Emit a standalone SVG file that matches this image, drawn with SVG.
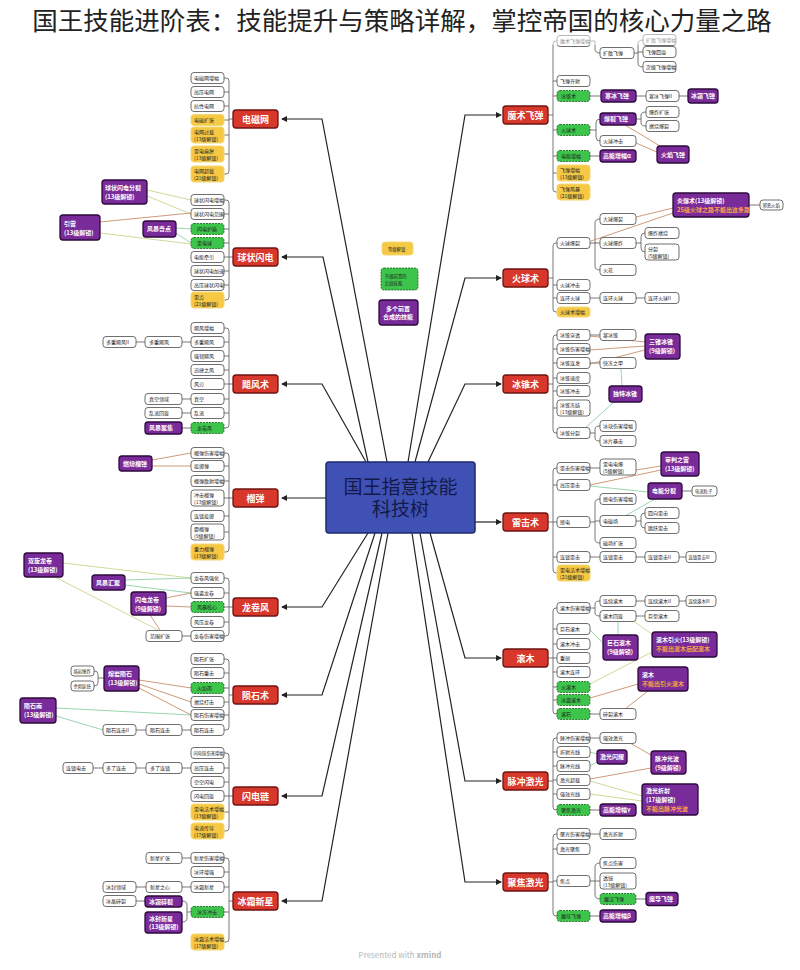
<svg xmlns="http://www.w3.org/2000/svg" width="800" height="970" viewBox="0 0 800 970">
<defs>
<marker id="a" viewBox="0 0 6 6" refX="5" refY="3" markerWidth="5" markerHeight="5" orient="auto"><path d="M0,0L6,3L0,6z" fill="#222"/></marker>
<style>
.w{fill:#fff;stroke:#4a4a4a;stroke-width:.8}
.g{fill:#3cc44b;stroke:#1b5e20;stroke-width:.8;stroke-dasharray:2 1}
.y{fill:#f6c945;stroke:#f2d878;stroke-width:1}
.p{fill:#7a2b9a;stroke:#2e0a3c;stroke-width:1.3}
.r{fill:#d8372b;stroke:#6e1410;stroke-width:1.3}
text{font-family:"Noto Sans CJK SC","Noto Sans",sans-serif}
.t{font-size:5px;fill:#222}
.ts{font-size:4.3px;fill:#222}
.tp{font-size:6px;font-weight:bold;fill:#fff}
.o{fill:#ffa04a}
.tr{font-size:9px;font-weight:bold;fill:#fff;text-anchor:middle}
.m{fill:none;stroke:#222;stroke-width:1.2;marker-end:url(#a)}
.b{fill:none;stroke:#555;stroke-width:.8}
.lo{fill:none;stroke:#cdd58e;stroke-width:.9}
.lt{fill:none;stroke:#c98f6a;stroke-width:.9}
.lg{fill:none;stroke:#8fd0a8;stroke-width:.9}
</style>
</defs>
<rect width="800" height="970" fill="#fff"/>

<g id="connectors">
<path class="m" d="M387,462L322,119H282"/>
<path class="m" d="M368,462L323,257H282"/>
<path class="m" d="M366,462L322,384H282"/>
<path class="m" d="M326,498H282"/>
<path class="m" d="M368,533L322,607H282"/>
<path class="m" d="M375,533L322,695H282"/>
<path class="m" d="M382,533L322,796H282"/>
<path class="m" d="M388,533L322,901H282"/>
<path class="m" d="M408,462L465,115H501"/>
<path class="m" d="M415,462L465,278H501"/>
<path class="m" d="M428,462L465,384H501"/>
<path class="m" d="M475,522H501"/>
<path class="m" d="M430,533L465,658H501"/>
<path class="m" d="M420,533L465,781H501"/>
<path class="m" d="M412,533L465,882H501"/>
<!-- left brackets -->
<path class="b" d="M224,78H226Q229,78 229,81V171Q229,174 226,174H224M224,92H229M224,106H229M224,120H229M224,135H229M224,154H229M229,119H233"/>
<path class="b" d="M224,200H226Q229,200 229,203V297Q229,300 226,300H224M224,214H229M224,229H229M224,243H229M224,257H229M224,271H229M224,285H229M229,257H233"/>
<path class="b" d="M224,328H226Q229,328 229,331V425Q229,428 226,428H224M224,342H229M224,356H229M224,370H229M224,384H229M224,399H229M224,413H229M229,384H233"/>
<path class="b" d="M224,453H226Q229,453 229,456V549Q229,552 226,552H224M224,466H229M224,481H229M224,498H229M224,516H229M224,532H229M229,498H233"/>
<path class="b" d="M224,578H226Q229,578 229,581V633Q229,636 226,636H224M224,593H229M224,607H229M224,622H229M229,607H233"/>
<path class="b" d="M224,659H226Q229,659 229,662V727Q229,730 226,730H224M224,673H229M224,688H229M224,702H229M224,715H229M229,695H233"/>
<path class="b" d="M224,753H226Q229,753 229,756V828Q229,831 226,831H224M224,768H229M224,782H229M224,796H229M224,812H229M229,796H233"/>
<path class="b" d="M224,858H226Q229,858 229,861V939Q229,942 226,942H224M224,872H229M224,887H229M224,912H229M229,901H233"/>
<!-- left extra links -->
<path class="b" d="M182,342H191M136,342H145M182,399H191M182,413H191M182,428H191"/>
<path class="b" d="M182,636H191"/>
<path class="b" d="M182,730H191M136,730H146M104,678H98M94,671Q98,671 98,674V683Q98,686 94,686"/>
<path class="b" d="M182,768H191M136,768H146M93,768H103"/>
<path class="b" d="M182,858H191M182,887H191M136,887H146M136,901H145M182,901Q187,901 187,905V918Q187,922 182,922M187,912H191"/>
<path class="lo" d="M147,190L191,200M147,196L191,214M100,233L191,244"/>
<path class="lt" d="M100,222L191,213"/>
<path class="lg" d="M176,228L191,229M176,233L191,243"/>
<path class="lt" d="M152,460L191,453M152,466L191,466"/>
<path class="lo" d="M63,563L191,578M55,577L158,630"/>
<path class="lg" d="M125,580L191,578M125,585L191,593"/>
<path class="lt" d="M166,598L191,593M166,606L191,607M150,615L160,630"/>
<path class="lt" d="M139,680L191,688M139,684L191,702M139,688L191,715"/>
<path class="lg" d="M56,708L191,715M56,716L103,730"/>
<!-- right brackets -->
<path class="b" d="M557,41H556Q553,41 553,44V189Q553,192 556,192H557M553,81H557M553,96H557M553,130H557M553,156H557M553,173H557M548,115H553"/>
<path class="b" d="M557,243H556Q553,243 553,246V309Q553,312 556,312H557M553,285H557M553,298H557M548,278H553"/>
<path class="b" d="M557,335H556Q553,335 553,338V430Q553,433 556,433H557M553,349H557M553,363H557M553,378H557M553,391H557M553,408H557M548,384H553"/>
<path class="b" d="M557,468H556Q553,468 553,471V570Q553,573 556,573H557M553,485H557M553,522H557M553,557H557M548,522H553"/>
<path class="b" d="M557,608H556Q553,608 553,611V711Q553,714 556,714H557M553,629H557M553,644H557M553,658H557M553,672H557M553,687H557M553,700H557M548,658H553"/>
<path class="b" d="M557,738H556Q553,738 553,741V807Q553,810 556,810H557M553,752H557M553,766H557M553,780H557M553,794H557M548,781H553"/>
<path class="b" d="M557,834H556Q553,834 553,837V913Q553,916 556,916H557M553,849H557M553,881H557M548,882H553"/>
<!-- right sub links -->
<path class="b" d="M590,41H595V49Q595,53 600,53M634,53H638M643,40Q638,40 638,44V63Q638,67 643,67M638,52H643"/>
<path class="b" d="M590,96H601M636,96H646M679,96H688"/>
<path class="b" d="M590,130H596M600,119Q596,119 596,123V137Q596,141 600,141M636,119H641M646,112Q641,112 641,115V123Q641,126 646,126"/>
<path class="b" d="M590,156H600"/>
<path class="lt" d="M660,146L625,125M657,152L636,143"/>
<path class="b" d="M590,243H595M600,219Q595,219 595,223V266Q595,270 600,270M595,243H600M636,243H641M645,233Q641,233 641,237V248Q641,252 645,252"/>
<path class="b" d="M590,298H600M636,298H645M749,205H760"/>
<path class="lt" d="M673,208L636,217M673,213L591,241"/>
<path class="b" d="M590,335H600M590,363H600M590,433H595M600,426Q595,426 595,429V438Q595,441 600,441"/>
<path class="lt" d="M645,342L590,336M645,346L590,350M645,350L590,364"/>
<path class="lg" d="M622,386L621,369M614,402L585,428"/>
<path class="b" d="M590,468H600M590,522H595M600,499Q595,499 595,503V539Q595,543 600,543M595,521H600M636,521H641M645,513Q641,513 641,516V525Q641,528 645,528"/>
<path class="b" d="M590,557H600M636,557H645M679,557H686M682,491H692"/>
<path class="lt" d="M661,466L636,470M661,470L590,485"/>
<path class="lg" d="M648,492L590,486M655,499L625,516"/>
<path class="b" d="M590,608H595M600,601Q595,601 595,604V613Q595,616 600,616M636,601H645M679,601H686M636,616H645M590,714H600"/>
<path class="lg" d="M618,622L618,635M590,630L603,643"/>
<path class="lo" d="M633,621L652,634M652,652L590,684"/>
<path class="lt" d="M638,684L590,698M648,691L625,709"/>
<path class="b" d="M590,738H600M590,810H600"/>
<path class="lg" d="M590,752L597,754M597,762L590,766"/>
<path class="lt" d="M651,755L630,743M651,768L590,779"/>
<path class="lo" d="M642,796L590,781M642,801L590,794"/>
<path class="b" d="M590,834H600M590,881H595M600,863Q595,863 595,867V895Q595,899 600,899M595,881H600M636,899H646M590,916H600"/>
</g>

<!-- center -->
<g id="center">
<rect x="326" y="462" width="149" height="71" rx="3" fill="#3f51b5" stroke="#1e2a6e" stroke-width="1.5"/>
<text font-size="19" fill="#141a48" text-anchor="middle"><tspan x="400.5" y="494">国王指意技能</tspan><tspan x="400.5" y="516">科技树</tspan></text>
</g>
<g id="legend-yellow"><rect class="y" x="382" y="242" width="31" height="13" rx="3"/><text class="ts" x="388" y="250.5">等级解锁</text></g>
<g id="legend-green"><rect class="g" x="381" y="268" width="37" height="22" rx="3"/><text class="ts" x="385" y="278" fill="#114a1a">升级前置的</text><text class="ts" x="385" y="285" fill="#114a1a">后续技能</text></g>
<g id="legend-purple"><rect class="p" x="379" y="300" width="39" height="25" rx="3"/><text class="tp" x="386" y="310.5" font-size="5">多个前置</text><text class="tp" x="383" y="318.5" font-size="5">合成的技能</text></g>

<!-- LEFT: 电磁网 -->
<g id="n-dcw"><rect class="r" x="233" y="110" width="45" height="18" rx="3"/><text class="tr" x="255.5" y="122.5">电磁网</text></g>
<g id="dcw1"><rect class="w" x="191" y="72.5" width="33" height="11" rx="3"/><text class="t" x="194" y="79.8">电磁网增幅</text></g>
<g id="dcw2"><rect class="w" x="191" y="86.5" width="33" height="11" rx="3"/><text class="t" x="194" y="93.8">高压电网</text></g>
<g id="dcw3"><rect class="w" x="191" y="100.5" width="33" height="11" rx="3"/><text class="t" x="194" y="107.8">抗性电网</text></g>
<g id="dcw4"><rect class="y" x="191" y="114.5" width="33" height="11" rx="3"/><text class="t" x="194" y="121.8">电磁扩张</text></g>
<g id="dcw5"><rect class="y" x="191" y="127" width="33" height="16" rx="3"/><text class="t" x="194" y="133.5">电网过载</text><text class="t" x="194" y="140.5">(13级解锁)</text></g>
<g id="dcw6"><rect class="y" x="191" y="146" width="33" height="16" rx="3"/><text class="t" x="194" y="152.5">雷电麻痹</text><text class="t" x="194" y="159.5">(13级解锁)</text></g>
<g id="dcw7"><rect class="y" x="191" y="166" width="33" height="16" rx="3"/><text class="t" x="194" y="172.5">电网超载</text><text class="t" x="194" y="179.5">(21级解锁)</text></g>

<!-- 球状闪电 -->
<g id="n-qzsd"><rect class="r" x="233" y="248" width="45" height="18" rx="3"/><text class="tr" x="255.5" y="260.5">球状闪电</text></g>
<g id="qz1"><rect class="w" x="191" y="194.5" width="33" height="11" rx="3"/><text class="t" x="194" y="201.8">球状闪电增幅</text></g>
<g id="qz2"><rect class="w" x="191" y="208.5" width="33" height="11" rx="3"/><text class="t" x="194" y="215.8">球状闪电范围</text></g>
<g id="qz3"><rect class="g" x="191" y="223.5" width="33" height="11" rx="3"/><text class="t" x="197" y="230.8">闪电护盾</text></g>
<g id="qz4"><rect class="g" x="191" y="237.5" width="33" height="11" rx="3"/><text class="t" x="197" y="244.8">雷电球</text></g>
<g id="qz5"><rect class="w" x="191" y="251.5" width="33" height="11" rx="3"/><text class="t" x="194" y="258.8">电能牵引</text></g>
<g id="qz6"><rect class="w" x="191" y="265.5" width="33" height="11" rx="3"/><text class="t" x="194" y="272.8">球状闪电加速</text></g>
<g id="qz7"><rect class="w" x="191" y="279.5" width="33" height="11" rx="3"/><text class="t" x="194" y="286.8">高压球状闪电</text></g>
<g id="qz8"><rect class="y" x="191" y="292" width="33" height="16" rx="3"/><text class="t" x="194" y="298.5">雷点</text><text class="t" x="194" y="305.5">(21级解锁)</text></g>
<g id="qz-p1"><rect class="p" x="102" y="180" width="45" height="24" rx="3"/><text class="tp" x="105" y="190">球状闪电分裂</text><text class="tp" x="105" y="199">(13级解锁)</text></g>
<g id="qz-p2"><rect class="p" x="143" y="221" width="33" height="16" rx="3"/><text class="tp" x="147" y="231">风暴奇点</text></g>
<g id="qz-p3"><rect class="p" x="60" y="215" width="40" height="25" rx="3"/><text class="tp" x="64" y="225.5">引雷</text><text class="tp" x="64" y="234.5">(13级解锁)</text></g>

<!-- 飓风术 -->
<g id="n-jfs"><rect class="r" x="233" y="375" width="45" height="18" rx="3"/><text class="tr" x="255.5" y="387.5">飓风术</text></g>
<g id="jf1"><rect class="w" x="191" y="322.5" width="33" height="11" rx="3"/><text class="t" x="194" y="329.8">飓风增幅</text></g>
<g id="jf2"><rect class="w" x="191" y="336.5" width="33" height="11" rx="3"/><text class="t" x="194" y="343.8">多重飓风</text></g>
<g id="jf3"><rect class="w" x="191" y="350.5" width="33" height="11" rx="3"/><text class="t" x="194" y="357.8">强韧飓风</text></g>
<g id="jf4"><rect class="w" x="191" y="364.5" width="33" height="11" rx="3"/><text class="t" x="194" y="371.8">迅捷之风</text></g>
<g id="jf5"><rect class="w" x="191" y="378.5" width="33" height="11" rx="3"/><text class="t" x="194" y="385.8">风刃</text></g>
<g id="jf6"><rect class="w" x="191" y="393.5" width="33" height="11" rx="3"/><text class="t" x="194" y="400.8">真空</text></g>
<g id="jf7"><rect class="w" x="191" y="407.5" width="33" height="11" rx="3"/><text class="t" x="194" y="414.8">乱流</text></g>
<g id="jf8"><rect class="g" x="191" y="422.5" width="33" height="11" rx="3"/><text class="t" x="197" y="429.8">龙卷风</text></g>
<g id="jf2a"><rect class="w" x="145" y="336.5" width="37" height="11" rx="3"/><text class="t" x="149" y="343.8">多重飓风</text></g>
<g id="jf2b"><rect class="w" x="103" y="336.5" width="33" height="11" rx="3"/><text class="t" x="106" y="343.8">多重飓风II</text></g>
<g id="jf6a"><rect class="w" x="145" y="393.5" width="37" height="11" rx="3"/><text class="t" x="149" y="400.8">真空领域</text></g>
<g id="jf7a"><rect class="w" x="145" y="407.5" width="37" height="11" rx="3"/><text class="t" x="149" y="414.8">乱流回旋</text></g>
<g id="jf8a"><rect class="p" x="145" y="422" width="37" height="12" rx="3"/><text class="tp" x="149" y="430.2">风暴聚集</text></g>

<!-- 榴弹 -->
<g id="n-ld"><rect class="r" x="233" y="489" width="45" height="18" rx="3"/><text class="tr" x="255.5" y="501.5">榴弹</text></g>
<g id="ld1"><rect class="w" x="191" y="447.5" width="33" height="11" rx="3"/><text class="t" x="194" y="454.8">榴弹伤害增幅</text></g>
<g id="ld2"><rect class="w" x="191" y="460.5" width="33" height="11" rx="3"/><text class="t" x="194" y="467.8">投掷弹</text></g>
<g id="ld3"><rect class="w" x="191" y="475.5" width="33" height="11" rx="3"/><text class="t" x="194" y="482.8">榴弹散射增幅</text></g>
<g id="ld4"><rect class="w" x="191" y="490" width="33" height="16" rx="3"/><text class="t" x="194" y="496.5">冲击榴弹</text><text class="t" x="194" y="503.5">(13级解锁)</text></g>
<g id="ld5"><rect class="w" x="191" y="510.5" width="33" height="11" rx="3"/><text class="t" x="194" y="517.8">连锁投掷</text></g>
<g id="ld6"><rect class="w" x="191" y="524" width="33" height="16" rx="3"/><text class="t" x="194" y="530.5">震榴弹</text><text class="t" x="194" y="537.5">(9级解锁)</text></g>
<g id="ld7"><rect class="y" x="191" y="544" width="33" height="16" rx="3"/><text class="t" x="194" y="550.5">重力榴弹</text><text class="t" x="194" y="557.5">(13级解锁)</text></g>
<g id="ld-p"><rect class="p" x="119" y="456" width="33" height="15" rx="3"/><text class="tp" x="123" y="465.8">燃烧榴弹</text></g>

<!-- 龙卷风 -->
<g id="n-ljf"><rect class="r" x="233" y="598" width="45" height="18" rx="3"/><text class="tr" x="255.5" y="610.5">龙卷风</text></g>
<g id="lj1"><rect class="w" x="191" y="572.5" width="33" height="11" rx="3"/><text class="t" x="194" y="579.8">龙卷风强化</text></g>
<g id="lj2"><rect class="w" x="191" y="587.5" width="33" height="11" rx="3"/><text class="t" x="194" y="594.8">强袭龙卷</text></g>
<g id="lj3"><rect class="g" x="191" y="601.5" width="33" height="11" rx="3"/><text class="t" x="197" y="608.8">风暴核心</text></g>
<g id="lj4"><rect class="w" x="191" y="616.5" width="33" height="11" rx="3"/><text class="t" x="194" y="623.8">风压龙卷</text></g>
<g id="lj5"><rect class="w" x="191" y="630.5" width="33" height="11" rx="3"/><text class="t" x="194" y="637.8">龙卷伤害增幅</text></g>
<g id="lj5a"><rect class="w" x="146" y="630.5" width="36" height="11" rx="3"/><text class="t" x="150" y="637.8">范围扩张</text></g>
<g id="lj-p1"><rect class="p" x="24" y="553" width="39" height="24" rx="3"/><text class="tp" x="28" y="563">双旋龙卷</text><text class="tp" x="28" y="572">(13级解锁)</text></g>
<g id="lj-p2"><rect class="p" x="92" y="575" width="33" height="15" rx="3"/><text class="tp" x="96" y="584.8">风暴汇聚</text></g>
<g id="lj-p3"><rect class="p" x="131" y="592" width="35" height="23" rx="3"/><text class="tp" x="135" y="601.5">闪电龙卷</text><text class="tp" x="135" y="610.5">(9级解锁)</text></g>

<!-- 陨石术 -->
<g id="n-yss"><rect class="r" x="233" y="686" width="45" height="18" rx="3"/><text class="tr" x="255.5" y="698.5">陨石术</text></g>
<g id="ys1"><rect class="w" x="191" y="653.5" width="33" height="11" rx="3"/><text class="t" x="194" y="660.8">陨石扩张</text></g>
<g id="ys2"><rect class="w" x="191" y="667.5" width="33" height="11" rx="3"/><text class="t" x="194" y="674.8">陨石重击</text></g>
<g id="ys3"><rect class="g" x="191" y="682.5" width="33" height="11" rx="3"/><text class="t" x="197" y="689.8">火焰雨</text></g>
<g id="ys4"><rect class="w" x="191" y="696.5" width="33" height="11" rx="3"/><text class="t" x="194" y="703.8">燃烧打击</text></g>
<g id="ys5"><rect class="w" x="191" y="709.5" width="33" height="11" rx="3"/><text class="t" x="194" y="716.8">陨石伤害增幅</text></g>
<g id="ys6"><rect class="w" x="191" y="724.5" width="33" height="11" rx="3"/><text class="t" x="194" y="731.8">陨石连击</text></g>
<g id="ys6a"><rect class="w" x="146" y="724.5" width="36" height="11" rx="3"/><text class="t" x="150" y="731.8">陨石连击</text></g>
<g id="ys6b"><rect class="w" x="103" y="724.5" width="33" height="11" rx="3"/><text class="t" x="106" y="731.8">陨石连击II</text></g>
<g id="ys-p1"><rect class="p" x="104" y="666" width="35" height="25" rx="3"/><text class="tp" x="108" y="676">熔岩陨石</text><text class="tp" x="108" y="685">(13级解锁)</text></g>
<g id="ys-p1a"><rect class="w" x="71" y="666" width="23" height="10" rx="3"/><text class="ts" x="73.5" y="672.6">熔岩爆炸</text></g>
<g id="ys-p1b"><rect class="w" x="71" y="681" width="23" height="10" rx="3"/><text class="ts" x="73.5" y="687.6">余烬延烧</text></g>
<g id="ys-p2"><rect class="p" x="20" y="698" width="36" height="25" rx="3"/><text class="tp" x="24" y="708">陨石雨</text><text class="tp" x="24" y="717">(13级解锁)</text></g>

<!-- 闪电链 -->
<g id="n-sdl"><rect class="r" x="233" y="787" width="45" height="18" rx="3"/><text class="tr" x="255.5" y="799.5">闪电链</text></g>
<g id="sd1"><rect class="w" x="191" y="747.5" width="33" height="11" rx="3"/><text class="ts" x="193.5" y="754.6">闪电链伤害增幅</text></g>
<g id="sd2"><rect class="w" x="191" y="762.5" width="33" height="11" rx="3"/><text class="t" x="194" y="769.8">高压连击</text></g>
<g id="sd3"><rect class="w" x="191" y="776.5" width="33" height="11" rx="3"/><text class="t" x="194" y="783.8">空空闪电</text></g>
<g id="sd4"><rect class="w" x="191" y="790.5" width="33" height="11" rx="3"/><text class="t" x="194" y="797.8">闪电回旋</text></g>
<g id="sd5"><rect class="y" x="191" y="804" width="33" height="16" rx="3"/><text class="t" x="194" y="810.5">雷电法术增幅</text><text class="t" x="194" y="817.5">(13级解锁)</text></g>
<g id="sd6"><rect class="y" x="191" y="823" width="33" height="16" rx="3"/><text class="t" x="194" y="829.5">电流传导</text><text class="t" x="194" y="836.5">(17级解锁)</text></g>
<g id="sd2a"><rect class="w" x="146" y="762.5" width="36" height="11" rx="3"/><text class="t" x="150" y="769.8">多了连锁</text></g>
<g id="sd2b"><rect class="w" x="103" y="762.5" width="33" height="11" rx="3"/><text class="t" x="106" y="769.8">多了连击</text></g>
<g id="sd2c"><rect class="w" x="63" y="762.5" width="30" height="11" rx="3"/><text class="t" x="66" y="769.8">连锁电击</text></g>

<!-- 冰霜新星 -->
<g id="n-bsxx"><rect class="r" x="233" y="892" width="45" height="18" rx="3"/><text class="tr" x="255.5" y="904.5">冰霜新星</text></g>
<g id="bx1"><rect class="w" x="191" y="852.5" width="33" height="11" rx="3"/><text class="t" x="194" y="859.8">新星伤害增幅</text></g>
<g id="bx2"><rect class="w" x="191" y="866.5" width="33" height="11" rx="3"/><text class="t" x="194" y="873.8">冰环增强</text></g>
<g id="bx3"><rect class="w" x="191" y="881.5" width="33" height="11" rx="3"/><text class="t" x="194" y="888.8">冰霜新星</text></g>
<g id="bx4"><rect class="g" x="191" y="906.5" width="33" height="11" rx="3"/><text class="t" x="197" y="913.8">冰冻冲击</text></g>
<g id="bx5"><rect class="y" x="191" y="934" width="33" height="16" rx="3"/><text class="t" x="194" y="940.5">冰霜法术增幅</text><text class="t" x="194" y="947.5">(17级解锁)</text></g>
<g id="bx1a"><rect class="w" x="146" y="852.5" width="36" height="11" rx="3"/><text class="t" x="150" y="859.8">新星扩张</text></g>
<g id="bx3a"><rect class="w" x="146" y="881.5" width="36" height="11" rx="3"/><text class="t" x="150" y="888.8">新星之心</text></g>
<g id="bx3b"><rect class="w" x="103" y="881.5" width="33" height="11" rx="3"/><text class="t" x="106" y="888.8">冰封领域</text></g>
<g id="bx-p1"><rect class="p" x="145" y="896" width="37" height="11" rx="3"/><text class="tp" x="149" y="903.7">冰霜碎裂</text></g>
<g id="bx-p2"><rect class="p" x="145" y="912" width="37" height="21" rx="3"/><text class="tp" x="149" y="920.5">冰封新星</text><text class="tp" x="149" y="929">(13级解锁)</text></g>
<g id="bx-p1a"><rect class="w" x="103" y="895.5" width="33" height="11" rx="3"/><text class="t" x="106" y="902.8">冰晶碎裂</text></g>

<!-- RIGHT: 魔术飞弹 -->
<g id="n-msfd"><rect class="r" x="503" y="106" width="45" height="18" rx="3"/><text class="tr" x="525.5" y="118.5">魔术飞弹</text></g>
<g id="mf1"><rect class="w" x="557" y="35.5" width="33" height="11" rx="3"/><text class="t" x="560" y="42.8">魔术飞弹增幅</text></g>
<g id="mf1a"><rect class="w" x="600" y="47.5" width="34" height="11" rx="3"/><text class="t" x="603" y="54.8">扩散飞弹</text></g>
<g id="mf1a1"><rect class="w" x="643" y="34.5" width="33" height="11" rx="3"/><text class="t" x="646" y="41.8">扩散飞弹增幅</text></g>
<g id="mf1a2"><rect class="w" x="643" y="46.5" width="33" height="11" rx="3"/><text class="t" x="646" y="53.8">飞弹四溢</text></g>
<g id="mf1a3"><rect class="w" x="643" y="61.5" width="33" height="11" rx="3"/><text class="t" x="646" y="68.8">次级飞弹增幅</text></g>
<g id="mf2"><rect class="w" x="557" y="75.5" width="33" height="11" rx="3"/><text class="t" x="560" y="82.8">飞弹齐射</text></g>
<g id="mf3"><rect class="g" x="557" y="90.5" width="33" height="11" rx="3"/><text class="t" x="561" y="97.8">冰锥术</text></g>
<g id="mf3a"><rect class="p" x="601" y="90" width="35" height="12" rx="3"/><text class="tp" x="605" y="98.2">寒冰飞弹</text></g>
<g id="mf3b"><rect class="w" x="646" y="90.5" width="33" height="11" rx="3"/><text class="t" x="649" y="97.8">寒冰飞弹II</text></g>
<g id="mf3c"><rect class="p" x="688" y="89" width="30" height="14" rx="3"/><text class="tp" x="691" y="98.2">冰霜飞弹</text></g>
<g id="mf4"><rect class="g" x="557" y="124.5" width="33" height="11" rx="3"/><text class="t" x="561" y="131.8">火球术</text></g>
<g id="mf4a"><rect class="p" x="600" y="113" width="36" height="12" rx="3"/><text class="tp" x="604" y="121.2">爆裂飞弹</text></g>
<g id="mf4b"><rect class="w" x="600" y="135.5" width="36" height="11" rx="3"/><text class="t" x="603" y="142.8">火球冲击</text></g>
<g id="mf4a1"><rect class="w" x="646" y="106.5" width="33" height="11" rx="3"/><text class="t" x="649" y="113.8">爆炸扩张</text></g>
<g id="mf4a2"><rect class="w" x="646" y="120.5" width="33" height="11" rx="3"/><text class="t" x="649" y="127.8">燃烧爆裂</text></g>
<g id="mf-p"><rect class="p" x="657" y="146" width="32" height="17" rx="3"/><text class="tp" x="661" y="157">火焰飞弹</text></g>
<g id="mf5"><rect class="g" x="557" y="150.5" width="33" height="11" rx="3"/><text class="t" x="561" y="157.8">电能增幅</text></g>
<g id="mf5a"><rect class="p" x="600" y="150" width="36" height="12" rx="3"/><text class="tp" x="603" y="158.2">高能增幅α</text></g>
<g id="mf6"><rect class="y" x="557" y="165" width="33" height="16" rx="3"/><text class="t" x="560" y="171.5">飞弹增幅</text><text class="t" x="560" y="178.5">(13级解锁)</text></g>
<g id="mf7"><rect class="y" x="557" y="184" width="33" height="16" rx="3"/><text class="t" x="560" y="190.5">飞弹风暴</text><text class="t" x="560" y="197.5">(21级解锁)</text></g>

<!-- 火球术 -->
<g id="n-hqs"><rect class="r" x="503" y="269" width="45" height="18" rx="3"/><text class="tr" x="525.5" y="281.5">火球术</text></g>
<g id="hq1"><rect class="w" x="557" y="237.5" width="33" height="11" rx="3"/><text class="t" x="560" y="244.8">火球爆裂</text></g>
<g id="hq1a"><rect class="w" x="600" y="213.5" width="36" height="11" rx="3"/><text class="t" x="603" y="220.8">大球爆裂</text></g>
<g id="hq1b"><rect class="w" x="600" y="237.5" width="36" height="11" rx="3"/><text class="t" x="603" y="244.8">火球爆炸</text></g>
<g id="hq1c"><rect class="w" x="600" y="264.5" width="36" height="11" rx="3"/><text class="t" x="603" y="271.8">火花</text></g>
<g id="hq1b1"><rect class="w" x="645" y="227.5" width="34" height="11" rx="3"/><text class="t" x="648" y="234.8">爆炸燃烧</text></g>
<g id="hq1b2"><rect class="w" x="645" y="244" width="34" height="16" rx="3"/><text class="t" x="648" y="250.5">分裂</text><text class="t" x="648" y="257.5">(5级解锁)</text></g>
<g id="hq2"><rect class="w" x="557" y="279.5" width="33" height="11" rx="3"/><text class="t" x="560" y="286.8">火球冲击</text></g>
<g id="hq3"><rect class="w" x="557" y="292.5" width="33" height="11" rx="3"/><text class="t" x="560" y="299.8">连环火球</text></g>
<g id="hq3a"><rect class="w" x="600" y="292.5" width="36" height="11" rx="3"/><text class="t" x="603" y="299.8">连环火球</text></g>
<g id="hq3b"><rect class="w" x="645" y="292.5" width="34" height="11" rx="3"/><text class="t" x="648" y="299.8">连环火球II</text></g>
<g id="hq4"><rect class="y" x="557" y="307" width="33" height="10" rx="3"/><text class="t" x="560" y="313.8">火球术增幅</text></g>
<g id="hq-p"><rect class="p" x="673" y="193" width="76" height="24" rx="3"/><text class="tp" x="677" y="203">炎爆术(13级解锁)</text><text class="tp o" x="677" y="212" font-size="5.4">25级火球之路不能出这条路</text></g>
<g id="hq-p1"><rect class="w" x="760" y="200" width="23" height="10" rx="3"/><text class="ts" x="762.5" y="206.6">邪恶火焰</text></g>

<!-- 冰锥术 -->
<g id="n-bzs"><rect class="r" x="503" y="375" width="45" height="18" rx="3"/><text class="tr" x="525.5" y="387.5">冰锥术</text></g>
<g id="bz1"><rect class="w" x="557" y="329.5" width="33" height="11" rx="3"/><text class="t" x="560" y="336.8">冰锥穿透</text></g>
<g id="bz1a"><rect class="w" x="600" y="329.5" width="36" height="11" rx="3"/><text class="t" x="603" y="336.8">寒冰锥</text></g>
<g id="bz2"><rect class="w" x="557" y="343.5" width="33" height="11" rx="3"/><text class="t" x="560" y="350.8">冰锥伤害增幅</text></g>
<g id="bz3"><rect class="w" x="557" y="357.5" width="33" height="11" rx="3"/><text class="t" x="560" y="364.8">冰锥连发</text></g>
<g id="bz3a"><rect class="w" x="600" y="357.5" width="36" height="11" rx="3"/><text class="t" x="603" y="364.8">快冻之甲</text></g>
<g id="bz4"><rect class="w" x="557" y="372.5" width="33" height="11" rx="3"/><text class="t" x="560" y="379.8">冰锥速度</text></g>
<g id="bz5"><rect class="w" x="557" y="385.5" width="33" height="11" rx="3"/><text class="t" x="560" y="392.8">冰锥冲击</text></g>
<g id="bz6"><rect class="w" x="557" y="400" width="33" height="16" rx="3"/><text class="t" x="560" y="406.5">冰锥冻结</text><text class="t" x="560" y="413.5">(13级解锁)</text></g>
<g id="bz7"><rect class="w" x="557" y="427.5" width="33" height="11" rx="3"/><text class="t" x="560" y="434.8">冰锥分裂</text></g>
<g id="bz7a"><rect class="w" x="600" y="420.5" width="36" height="11" rx="3"/><text class="t" x="603" y="427.8">冰块伤害增幅</text></g>
<g id="bz7b"><rect class="w" x="600" y="435.5" width="36" height="11" rx="3"/><text class="t" x="603" y="442.8">冰片暴击</text></g>
<g id="bz-p1"><rect class="p" x="645" y="334" width="35" height="25" rx="3"/><text class="tp" x="649" y="344">三锥冰锥</text><text class="tp" x="649" y="353">(9级解锁)</text></g>
<g id="bz-p2"><rect class="p" x="609" y="386" width="33" height="16" rx="3"/><text class="tp" x="613" y="396">独特冰锥</text></g>

<!-- 雷击术 -->
<g id="n-ljs"><rect class="r" x="503" y="513" width="45" height="18" rx="3"/><text class="tr" x="525.5" y="525.5">雷击术</text></g>
<g id="lz1"><rect class="w" x="557" y="462.5" width="33" height="11" rx="3"/><text class="t" x="560" y="469.8">雷击伤害增幅</text></g>
<g id="lz1a"><rect class="w" x="600" y="459" width="36" height="16" rx="3"/><text class="t" x="603" y="465.5">雷电电爆</text><text class="t" x="603" y="472.5">(5级解锁)</text></g>
<g id="lz2"><rect class="w" x="557" y="479.5" width="33" height="11" rx="3"/><text class="t" x="560" y="486.8">高压雷击</text></g>
<g id="lz3"><rect class="w" x="557" y="516.5" width="33" height="11" rx="3"/><text class="t" x="560" y="523.8">感电</text></g>
<g id="lz3a"><rect class="w" x="600" y="493.5" width="36" height="11" rx="3"/><text class="t" x="603" y="500.8">感电伤害增幅</text></g>
<g id="lz3b"><rect class="w" x="600" y="515.5" width="36" height="11" rx="3"/><text class="t" x="603" y="522.8">电磁场</text></g>
<g id="lz3c"><rect class="w" x="600" y="537.5" width="36" height="11" rx="3"/><text class="t" x="603" y="544.8">磁场扩张</text></g>
<g id="lz3b1"><rect class="w" x="645" y="507.5" width="34" height="11" rx="3"/><text class="t" x="648" y="514.8">四向雷击</text></g>
<g id="lz3b2"><rect class="w" x="645" y="522.5" width="34" height="11" rx="3"/><text class="t" x="648" y="529.8">跳跃雷击</text></g>
<g id="lz4"><rect class="w" x="557" y="551.5" width="33" height="11" rx="3"/><text class="t" x="560" y="558.8">连锁雷击</text></g>
<g id="lz4a"><rect class="w" x="600" y="551.5" width="36" height="11" rx="3"/><text class="t" x="603" y="558.8">连锁雷击</text></g>
<g id="lz4b"><rect class="w" x="645" y="551.5" width="34" height="11" rx="3"/><text class="t" x="648" y="558.8">连锁雷击II</text></g>
<g id="lz4c"><rect class="w" x="686" y="551.5" width="30" height="11" rx="3"/><text class="ts" x="688.5" y="558.6">连锁雷击III</text></g>
<g id="lz5"><rect class="y" x="557" y="565" width="33" height="16" rx="3"/><text class="t" x="560" y="571.5">雷电法术增幅</text><text class="t" x="560" y="578.5">(21级解锁)</text></g>
<g id="lz-p1"><rect class="p" x="661" y="452" width="38" height="24" rx="3"/><text class="tp" x="665" y="462">审判之雷</text><text class="tp" x="665" y="471">(13级解锁)</text></g>
<g id="lz-p2"><rect class="p" x="648" y="483" width="34" height="16" rx="3"/><text class="tp" x="652" y="493">电能分裂</text></g>
<g id="lz-p2a"><rect class="w" x="692" y="486" width="25" height="10" rx="3"/><text class="ts" x="695" y="492.6">电流粒子</text></g>

<!-- 滚木 -->
<g id="n-gm"><rect class="r" x="503" y="649" width="45" height="18" rx="3"/><text class="tr" x="525.5" y="661.5">滚木</text></g>
<g id="gm1"><rect class="w" x="557" y="602.5" width="33" height="11" rx="3"/><text class="t" x="560" y="609.8">滚木伤害增幅</text></g>
<g id="gm1a"><rect class="w" x="600" y="595.5" width="36" height="11" rx="3"/><text class="t" x="603" y="602.8">连续滚木</text></g>
<g id="gm1b"><rect class="w" x="600" y="610.5" width="36" height="11" rx="3"/><text class="t" x="603" y="617.8">滚木回旋</text></g>
<g id="gm1a1"><rect class="w" x="645" y="595.5" width="34" height="11" rx="3"/><text class="t" x="648" y="602.8">连续滚木II</text></g>
<g id="gm1a2"><rect class="w" x="686" y="595.5" width="30" height="11" rx="3"/><text class="ts" x="688.5" y="602.6">连续滚木III</text></g>
<g id="gm1b1"><rect class="w" x="645" y="610.5" width="34" height="11" rx="3"/><text class="t" x="648" y="617.8">巨型滚木</text></g>
<g id="gm2"><rect class="w" x="557" y="623.5" width="33" height="11" rx="3"/><text class="t" x="560" y="630.8">巨石滚木</text></g>
<g id="gm3"><rect class="w" x="557" y="638.5" width="33" height="11" rx="3"/><text class="t" x="560" y="645.8">滚木冲击</text></g>
<g id="gm4"><rect class="w" x="557" y="652.5" width="33" height="11" rx="3"/><text class="t" x="560" y="659.8">重创</text></g>
<g id="gm5"><rect class="w" x="557" y="666.5" width="33" height="11" rx="3"/><text class="t" x="560" y="673.8">滚木连环</text></g>
<g id="gm6"><rect class="g" x="557" y="681.5" width="33" height="11" rx="3"/><text class="t" x="561" y="688.8">火滚木</text></g>
<g id="gm7"><rect class="g" x="557" y="694.5" width="33" height="11" rx="3"/><text class="t" x="561" y="701.8">冰霜滚木</text></g>
<g id="gm8"><rect class="g" x="557" y="708.5" width="33" height="11" rx="3"/><text class="t" x="561" y="715.8">滚石</text></g>
<g id="gm8a"><rect class="w" x="600" y="708.5" width="36" height="11" rx="3"/><text class="t" x="603" y="715.8">碎裂滚木</text></g>
<g id="gm-p1"><rect class="p" x="603" y="635" width="35" height="25" rx="3"/><text class="tp" x="607" y="645">巨石滚木</text><text class="tp" x="607" y="654">(9级解锁)</text></g>
<g id="gm-p2"><rect class="p" x="652" y="632" width="65" height="25" rx="3"/><text class="tp" x="656" y="642">滚木引火(13级解锁)</text><text class="tp o" x="656" y="651">不能出滚木后配滚木</text></g>
<g id="gm-p3"><rect class="p" x="638" y="667" width="50" height="24" rx="3"/><text class="tp" x="642" y="677">滚木</text><text class="tp o" x="642" y="686">不能出引火滚木</text></g>

<!-- 脉冲激光 -->
<g id="n-mcjg"><rect class="r" x="503" y="772" width="45" height="18" rx="3"/><text class="tr" x="525.5" y="784.5">脉冲激光</text></g>
<g id="mc1"><rect class="w" x="557" y="732.5" width="33" height="11" rx="3"/><text class="t" x="560" y="739.8">脉冲伤害增幅</text></g>
<g id="mc1a"><rect class="w" x="600" y="732.5" width="36" height="11" rx="3"/><text class="t" x="603" y="739.8">强效激光</text></g>
<g id="mc2"><rect class="w" x="557" y="746.5" width="33" height="11" rx="3"/><text class="t" x="560" y="753.8">折射光线</text></g>
<g id="mc3"><rect class="w" x="557" y="760.5" width="33" height="11" rx="3"/><text class="t" x="560" y="767.8">脉冲光线</text></g>
<g id="mc4"><rect class="w" x="557" y="774.5" width="33" height="11" rx="3"/><text class="t" x="560" y="781.8">激光超载</text></g>
<g id="mc5"><rect class="w" x="557" y="788.5" width="33" height="11" rx="3"/><text class="t" x="560" y="795.8">强效光线</text></g>
<g id="mc6"><rect class="g" x="557" y="804.5" width="33" height="11" rx="3"/><text class="t" x="561" y="811.8">聚焦激光</text></g>
<g id="mc6a"><rect class="p" x="600" y="804" width="36" height="12" rx="3"/><text class="tp" x="603" y="812.2">高能增幅γ</text></g>
<g id="mc-p1"><rect class="p" x="597" y="750" width="30" height="14" rx="3"/><text class="tp" x="600" y="759">激光闪耀</text></g>
<g id="mc-p2"><rect class="p" x="651" y="751" width="35" height="23" rx="3"/><text class="tp" x="655" y="760.5">脉冲光波</text><text class="tp" x="655" y="769.5">(9级解锁)</text></g>
<g id="mc-p3"><rect class="p" x="642" y="784" width="56" height="31" rx="3"/><text class="tp" x="646" y="793">激光折射</text><text class="tp" x="646" y="801.5">(17级解锁)</text><text class="tp o" x="646" y="810.5">不能出脉冲光波</text></g>

<!-- 聚焦激光 -->
<g id="n-jjjg"><rect class="r" x="503" y="873" width="45" height="18" rx="3"/><text class="tr" x="525.5" y="885.5">聚焦激光</text></g>
<g id="jj1"><rect class="w" x="557" y="828.5" width="33" height="11" rx="3"/><text class="t" x="560" y="835.8">聚光伤害增幅</text></g>
<g id="jj1a"><rect class="w" x="600" y="828.5" width="36" height="11" rx="3"/><text class="t" x="603" y="835.8">激光折射</text></g>
<g id="jj2"><rect class="w" x="557" y="843.5" width="33" height="11" rx="3"/><text class="t" x="560" y="850.8">激光聚焦</text></g>
<g id="jj3"><rect class="w" x="557" y="875.5" width="33" height="11" rx="3"/><text class="t" x="560" y="882.8">焦点</text></g>
<g id="jj3a"><rect class="w" x="600" y="857.5" width="36" height="11" rx="3"/><text class="t" x="603" y="864.8">焦点伤害</text></g>
<g id="jj3b"><rect class="w" x="600" y="873" width="36" height="16" rx="3"/><text class="t" x="603" y="879.5">透镜</text><text class="t" x="603" y="886.5">(13级解锁)</text></g>
<g id="jj3c"><rect class="g" x="600" y="893.5" width="36" height="11" rx="3"/><text class="t" x="604" y="900.8">魔法飞弹</text></g>
<g id="jj3c1"><rect class="p" x="646" y="892.5" width="32" height="13" rx="3"/><text class="tp" x="649" y="901.2">魔导飞弹</text></g>
<g id="jj4"><rect class="g" x="557" y="910.5" width="33" height="11" rx="3"/><text class="t" x="561" y="917.8">魔导飞弹</text></g>
<g id="jj4a"><rect class="p" x="600" y="910" width="36" height="12" rx="3"/><text class="tp" x="603" y="918.2">高能增幅β</text></g>

<!-- title -->
<rect x="0" y="0" width="800" height="45" fill="#fff" opacity=".5"/>
<text x="402" y="29.5" font-size="25.5" fill="#222" text-anchor="middle">国王技能进阶表：技能提升与策略详解，掌控帝国的核心力量之路</text>
<text x="400" y="958" font-size="8" fill="#b5b5b5" text-anchor="middle" font-family="Liberation Sans, sans-serif">Presented with <tspan font-weight="bold">xmind</tspan></text>
</svg>
